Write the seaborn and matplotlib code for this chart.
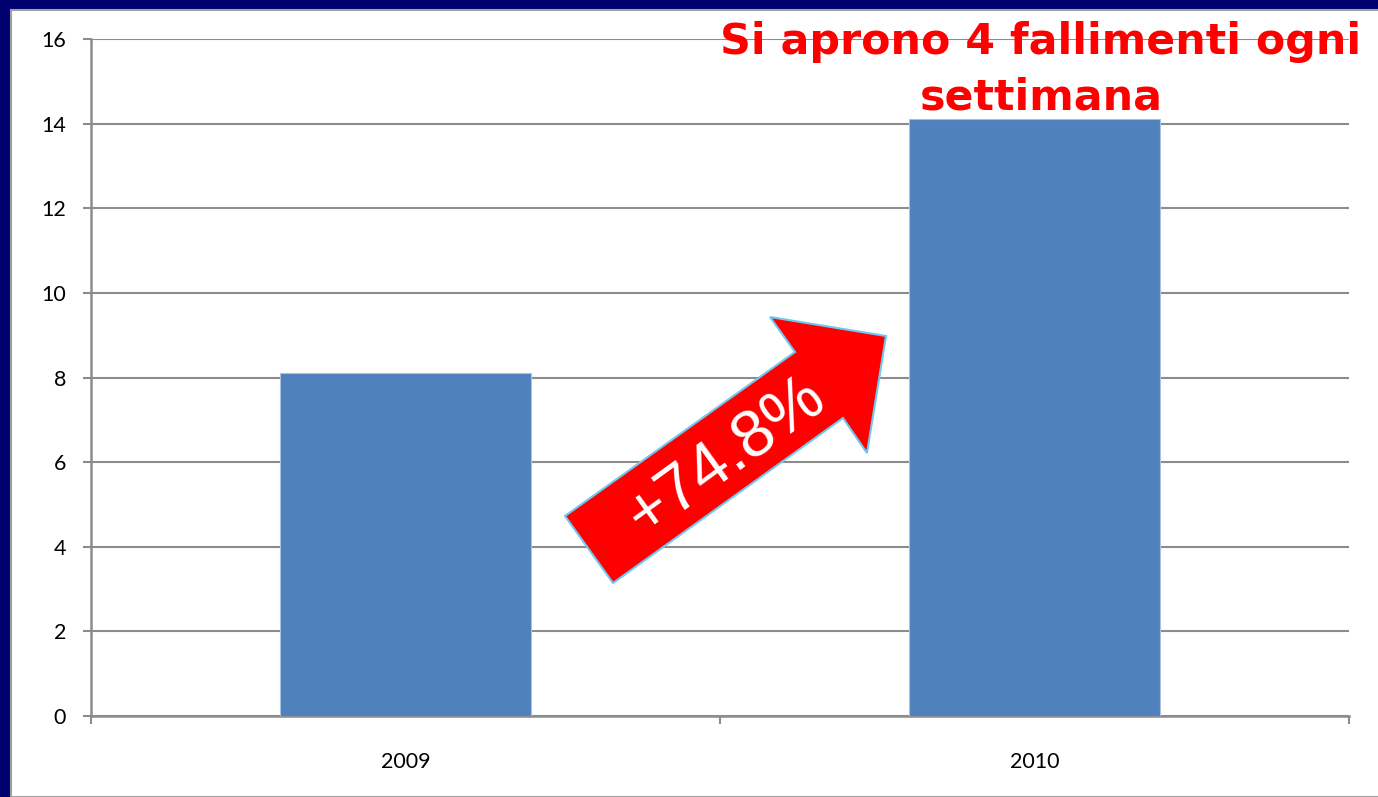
import matplotlib
matplotlib.use("Agg")
import matplotlib.pyplot as plt
from matplotlib.patches import Polygon, Rectangle
from matplotlib.ticker import FixedLocator
import seaborn as sns

# data
years = ["2009", "2010"]
fallimenti = [8.1, 14.12]
y_ticks = [0, 2, 4, 6, 8, 10, 12, 14, 16]

W, H = 1378, 797
sns.set_style("white")
plt.rcParams["font.family"] = ["Lato", "DejaVu Sans"]

fig = plt.figure(figsize=(W / 100, H / 100), dpi=100)
fig.patch.set_facecolor("#000070")

# white slide panel with a thin grey edge
fig.patches.append(Rectangle((11 / W, 0), 1, 1 - 10 / H, transform=fig.transFigure,
                             facecolor="white", edgecolor="#a0a0a0", linewidth=1.5, zorder=-5))

ax = fig.add_axes([91 / W, 1 - 716 / H, (1349 - 91) / W, (716 - 39) / H])
ax.set_facecolor("none")
ax.set_zorder(1)

sns.barplot(x=years, y=fallimenti, color="#4F81BD", saturation=1, width=0.4, ax=ax, zorder=3,
            edgecolor="#a9c2e0", linewidth=0.8)

ax.set_xlim(-0.5, 1.5)
ax.set_ylim(0, 16)
ax.set_yticks(y_ticks)
ax.yaxis.grid(True, color="#8c8c8c", linewidth=1.5, zorder=0)
ax.set_axisbelow(True)
for s in ["top", "right"]:
    ax.spines[s].set_visible(False)
for s in ["left", "bottom"]:
    ax.spines[s].set_color("#8c8c8c")
    ax.spines[s].set_linewidth(1.8)

ax.tick_params(axis="y", length=6, width=1.5, color="#8c8c8c", pad=12, labelsize=15.5, labelcolor="black", left=True)
ax.tick_params(axis="x", which="major", length=0, pad=26, labelsize=15.5, labelcolor="black")
ax.xaxis.set_minor_locator(FixedLocator([-0.5, 0.5, 1.5]))
ax.tick_params(axis="x", which="minor", length=6, width=1.5, color="#8c8c8c", bottom=True)
ax.set_xlabel("")
ax.set_ylabel("")

# red arrow annotation (figure pixel coords)
arrow_px = [(565, 516), (795, 352), (770, 317), (886, 336), (867, 453), (843, 418), (613, 583)]
arrow = Polygon([(x / W, 1 - y / H) for x, y in arrow_px], closed=True, transform=fig.transFigure,
                facecolor="#ff0000", edgecolor="#6ec8f0", linewidth=1.5, zorder=5)
fig.patches.append(arrow)
fig.text(727 / W, 1 - 457 / H, "+74.8%", rotation=35.8, rotation_mode="anchor",
         ha="center", va="center", color="white", fontsize=48, family="Liberation Sans", zorder=6)

# headline
fig.text(1041 / W, 1 - 54 / H, "Si aprono 4 fallimenti ogni", ha="center", va="baseline",
         color="#ff0000", fontsize=30.8, fontweight="bold", family="DejaVu Sans", zorder=6)
fig.text(1041 / W, 1 - 110 / H, "settimana", ha="center", va="baseline",
         color="#ff0000", fontsize=30.8, fontweight="bold", family="DejaVu Sans", zorder=6)

fig.savefig("out.png", dpi=100, facecolor=fig.get_facecolor())
